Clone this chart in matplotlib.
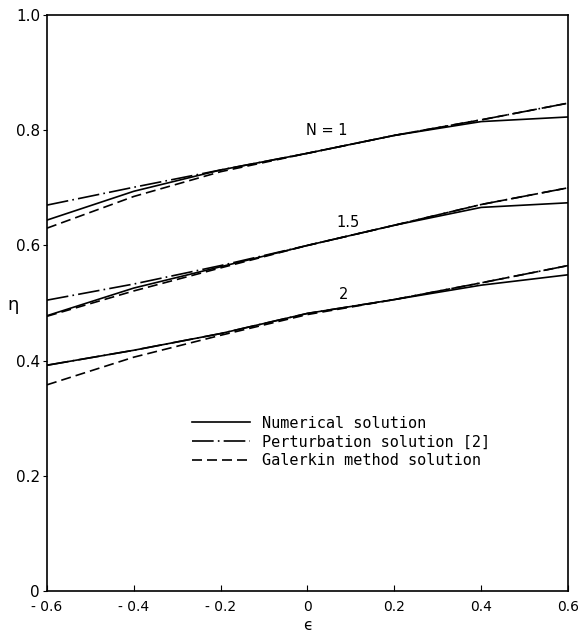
import matplotlib
matplotlib.use("Agg")
import matplotlib.pyplot as plt

# epsilon sample points
eps = [-0.6, -0.4, -0.2, 0.0, 0.2, 0.4, 0.6]

# N = 1
num_n1 = [0.644, 0.694, 0.731, 0.760, 0.791, 0.815, 0.823]
per_n1 = [0.670, 0.701, 0.731, 0.760, 0.791, 0.818, 0.847]
gal_n1 = [0.630, 0.685, 0.728, 0.760, 0.791, 0.818, 0.847]
# N = 1.5
num_n15 = [0.478, 0.526, 0.563, 0.600, 0.635, 0.666, 0.674]
per_n15 = [0.505, 0.533, 0.565, 0.600, 0.635, 0.671, 0.700]
gal_n15 = [0.477, 0.521, 0.561, 0.600, 0.635, 0.671, 0.700]
# N = 2
num_n2 = [0.392, 0.418, 0.447, 0.482, 0.506, 0.531, 0.549]
per_n2 = [0.392, 0.418, 0.447, 0.482, 0.506, 0.535, 0.565]
gal_n2 = [0.358, 0.406, 0.444, 0.480, 0.506, 0.535, 0.565]

curve_labels = ["N = 1", "1.5", "2"]
label_pos = [(0.045, 0.800), (0.093, 0.639), (0.082, 0.514)]

legend_labels = ["Numerical solution", "Perturbation solution [2]", "Galerkin method solution"]

xticks = [-0.6, -0.4, -0.2, 0.0, 0.2, 0.4, 0.6]
xticklabels = ["- 0.6", "- 0.4", "- 0.2", "0", "0.2", "0.4", "0.6"]
yticks = [0.0, 0.2, 0.4, 0.6, 0.8, 1.0]
yticklabels = ["0", "0.2", "0.4", "0.6", "0.8", "1.0"]

fig = plt.figure(figsize=(5.78, 6.34), dpi=100)
ax = fig.add_axes([0.0813, 0.0678, 0.9014, 0.9085])

lw = 1.2
dd = (0, (13, 2.5, 1, 2.5))
ds = (0, (6, 3))
for num, per, gal in [(num_n1, per_n1, gal_n1), (num_n15, per_n15, gal_n15), (num_n2, per_n2, gal_n2)]:
    ax.plot(eps, num, color="black", lw=lw, linestyle="-")
    ax.plot(eps, per, color="black", lw=lw, linestyle=dd)
    ax.plot(eps, gal, color="black", lw=lw, linestyle=ds)

for txt, (x, y) in zip(curve_labels, label_pos):
    ax.text(x, y, txt, fontsize=10.5, ha="center", va="center")

h1, = ax.plot([], [], color="black", lw=lw, linestyle="-")
h2, = ax.plot([], [], color="black", lw=lw, linestyle=dd)
h3, = ax.plot([], [], color="black", lw=lw, linestyle=ds)
ax.legend([h1, h2, h3], legend_labels, loc="center left",
          bbox_to_anchor=(0.278, 0.259), frameon=False,
          prop={"family": "DejaVu Sans Mono", "size": 11},
          handlelength=3.8, handletextpad=0.8, labelspacing=0.25,
          borderpad=0, borderaxespad=0)

ax.set_xlim(-0.6, 0.6)
ax.set_ylim(0, 1.0)
ax.set_xticks(xticks)
ax.set_xticklabels(xticklabels, fontsize=10)
ax.set_yticks(yticks)
ax.set_yticklabels(yticklabels, fontsize=11)
ax.tick_params(axis="x", direction="in", length=4, pad=6.5)
ax.tick_params(axis="y", direction="out", length=3, pad=2)
for s in ax.spines.values():
    s.set_linewidth(1.2)

ax.set_xlabel("ϵ", fontsize=11, va="center")
ax.xaxis.set_label_coords(0.5, -0.060)
ax.set_ylabel("η", fontsize=13, rotation=0, va="center", ha="center")
ax.yaxis.set_label_coords(-0.065, 0.497)

fig.savefig("out.png", dpi=100)
